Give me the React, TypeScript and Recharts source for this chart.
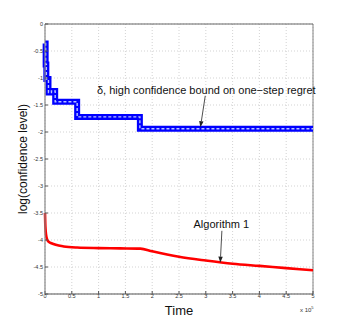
import React from "react";
import {
  LineChart,
  Line,
  XAxis,
  YAxis,
  CartesianGrid,
  ReferenceLine,
  ReferenceDot,
} from "recharts";

// time in units of 1e5
const TIME_TICKS = [0, 0.5, 1, 1.5, 2, 2.5, 3, 3.5, 4, 4.5, 5];
const LOG_TICKS = [0, -0.5, -1, -1.5, -2, -2.5, -3, -3.5, -4, -4.5, -5];

// delta bound, step function
const BOUND_TIME = [0, 0.012, 0.025, 0.065, 0.12, 0.19, 0.6, 1.77, 5];
const BOUND_LOG = [-0.36, -0.75, -1.02, -1.27, -1.24, -1.44, -1.72, -1.94, -1.94];

// Algorithm 1
const ALG_TIME = [0, 0.005, 0.01, 0.02, 0.03, 0.05, 0.08, 0.12, 0.2, 0.35, 0.6, 1.0, 1.4, 1.78, 2.0, 2.5, 3.0, 3.5, 4.0, 4.5, 5.0];
const ALG_LOG = [-3.5, -3.7, -3.8, -3.9, -3.96, -4.01, -4.04, -4.06, -4.09, -4.12, -4.14, -4.15, -4.155, -4.16, -4.21, -4.31, -4.38, -4.44, -4.48, -4.52, -4.56];

const boundData = BOUND_TIME.map((t, i) => ({ t, v: BOUND_LOG[i] }));
const algData = ALG_TIME.map((t, i) => ({ t, v: ALG_LOG[i] }));

const FONT = "'Liberation Sans', Arial, sans-serif";

function Arrow(props: any) {
  const { x1, y1, x2, y2 } = props;
  const a = Math.atan2(y2 - y1, x2 - x1);
  const L = 6;
  const W = 2.2;
  const bx = x2 - L * Math.cos(a);
  const by = y2 - L * Math.sin(a);
  const px = -Math.sin(a) * W;
  const py = Math.cos(a) * W;
  return (
    <g>
      <line x1={x1} y1={y1} x2={bx} y2={by} stroke="#222" strokeWidth={0.8} />
      <polygon
        points={`${x2},${y2} ${bx + px},${by + py} ${bx - px},${by - py}`}
        fill="#222"
      />
    </g>
  );
}

function note(text: string, anchor: string) {
  return (p: any) => (
    <text
      x={p.cx}
      y={p.cy}
      fontSize={11}
      fontFamily={FONT}
      fill="#111"
      textAnchor={anchor}
      dominantBaseline="central"
    >
      {text}
    </text>
  );
}

export default function App() {
  return (
    <div style={{ position: "absolute", left: 0, top: 0, background: "#fff" }}>
      <LineChart
        width={346}
        height={331}
        margin={{ top: 24, right: 33, bottom: 17, left: 15 }}
      >
        <CartesianGrid stroke="#c8c8c8" strokeDasharray="1 2" strokeWidth={0.8} />
        <XAxis
          dataKey="t"
          type="number"
          domain={[0, 5]}
          ticks={TIME_TICKS}
          allowDuplicatedCategory={false}
          height={20}
          tickSize={-3}
          tickLine={{ stroke: "#555" }}
          axisLine={{ stroke: "#555", strokeWidth: 1.2 }}
          tick={{ fontSize: 5.5, fill: "#333", fontFamily: FONT }}
          tickMargin={3}
          label={{
            value: "Time",
            position: "insideBottom",
            offset: -1,
            fontSize: 13,
            fill: "#111",
            fontFamily: FONT,
          }}
        />
        <YAxis
          type="number"
          domain={[-5, 0]}
          ticks={LOG_TICKS}
          width={30}
          tickSize={-3}
          tickLine={{ stroke: "#555" }}
          axisLine={{ stroke: "#888", strokeWidth: 1.2 }}
          tick={{ fontSize: 5.5, fill: "#333", fontFamily: FONT }}
          tickMargin={5}
          label={{
            value: "log(confidence level)",
            angle: -90,
            position: "insideLeft",
            offset: 0,
            dx: 8,
            style: { textAnchor: "middle" },
            fontSize: 12,
            fill: "#111",
            fontFamily: FONT,
          }}
        />
        <ReferenceLine y={0} stroke="#555" strokeWidth={0.9} />
        <ReferenceLine x={5} stroke="#777" strokeWidth={0.9} />
        <Line
          data={boundData}
          dataKey="v"
          type="stepAfter"
          stroke="#0000ff"
          strokeWidth={6}
          dot={false}
          isAnimationActive={false}
        />
        <Line
          data={boundData}
          dataKey="v"
          type="stepAfter"
          stroke="#b8c4ff"
          strokeWidth={1.4}
          strokeDasharray="3 2"
          dot={false}
          isAnimationActive={false}
        />
        <Line
          data={algData}
          dataKey="v"
          type="monotone"
          stroke="#ff0000"
          strokeWidth={2.6}
          dot={false}
          isAnimationActive={false}
        />
        <ReferenceLine
          segment={[{ x: 2.99, y: -1.33 }, { x: 2.9, y: -1.91 }]}
          shape={Arrow}
        />
        <ReferenceLine
          segment={[{ x: 3.3, y: -3.83 }, { x: 3.27, y: -4.42 }]}
          shape={Arrow}
        />
        <ReferenceDot
          x={0.97}
          y={-1.22}
          r={0}
          shape={note("δ, high confidence bound on one−step regret", "start")}
        />
        <ReferenceDot
          x={3.29}
          y={-3.7}
          r={0}
          shape={note("Algorithm 1", "middle")}
        />
      </LineChart>
      <div
        style={{
          position: "absolute",
          left: 300,
          top: 306,
          fontSize: 6,
          lineHeight: "7px",
          fontFamily: FONT,
          color: "#333",
          whiteSpace: "nowrap",
        }}
      >
        x 10<sup style={{ fontSize: 4, lineHeight: "4px" }}>5</sup>
      </div>
    </div>
  );
}
